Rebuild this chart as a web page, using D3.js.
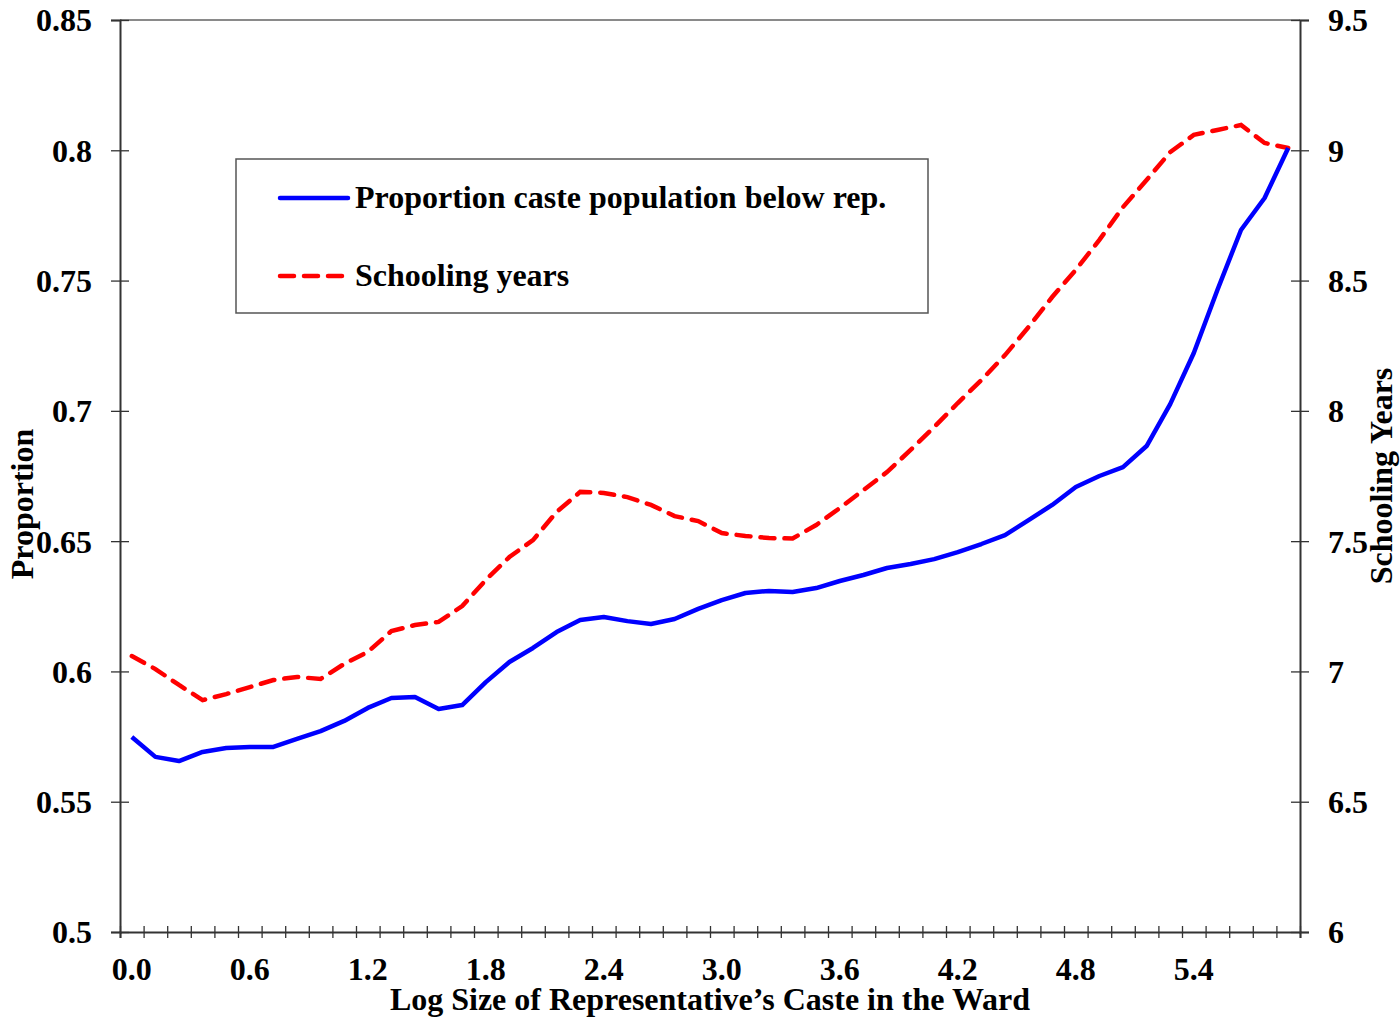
<!DOCTYPE html>
<html>
<head>
<meta charset="utf-8">
<script src="https://cdn.jsdelivr.net/npm/d3@7"></script>
<style>
    body { margin: 0; background: #fff; }
    svg text { font-family: "Liberation Serif", "Times New Roman", serif; font-weight: bold; fill: #000; }
</style>
</head>
<body>
<div id="chart"></div>
<script>
// Log size categories (x) and the two series
const logSize = [0.00, 0.12, 0.24, 0.36, 0.48, 0.60, 0.72, 0.84, 0.96, 1.08,
                 1.20, 1.32, 1.44, 1.56, 1.68, 1.80, 1.92, 2.04, 2.16, 2.28,
                 2.40, 2.52, 2.64, 2.76, 2.88, 3.00, 3.12, 3.24, 3.36, 3.48,
                 3.60, 3.72, 3.84, 3.96, 4.08, 4.20, 4.32, 4.44, 4.56, 4.68,
                 4.80, 4.92, 5.04, 5.16, 5.28, 5.40, 5.52, 5.64, 5.76, 5.88];

const proportion = [0.5748, 0.5672, 0.5656, 0.5691, 0.5706, 0.5710, 0.5710, 0.5741, 0.5771, 0.5810,
                    0.5860, 0.5898, 0.5902, 0.5856, 0.5871, 0.5959, 0.6036, 0.6090, 0.6151, 0.6197,
                    0.6209, 0.6193, 0.6182, 0.6201, 0.6240, 0.6274, 0.6301, 0.6309, 0.6305, 0.6320,
                    0.6347, 0.6370, 0.6397, 0.6412, 0.6431, 0.6458, 0.6489, 0.6523, 0.6581, 0.6639,
                    0.6708, 0.6750, 0.6784, 0.6865, 0.7026, 0.7222, 0.7464, 0.7694, 0.7817, 0.8009];

const schooling = [7.059, 7.009, 6.948, 6.890, 6.913, 6.940, 6.967, 6.979, 6.971, 7.029,
                   7.075, 7.155, 7.178, 7.190, 7.251, 7.351, 7.439, 7.504, 7.612, 7.689,
                   7.685, 7.669, 7.639, 7.596, 7.577, 7.531, 7.520, 7.512, 7.510, 7.562,
                   7.627, 7.696, 7.765, 7.850, 7.938, 8.030, 8.118, 8.214, 8.322, 8.437,
                   8.541, 8.656, 8.782, 8.886, 8.993, 9.059, 9.078, 9.097, 9.028, 9.009];

const xTickLabels = ['0.0', '0.6', '1.2', '1.8', '2.4', '3.0', '3.6', '4.2', '4.8', '5.4'];
const leftTicks = [0.5, 0.55, 0.6, 0.65, 0.7, 0.75, 0.8, 0.85];
const rightTicks = [6, 6.5, 7, 7.5, 8, 8.5, 9, 9.5];

const seriesNames = ['Proportion caste population below rep.', 'Schooling years'];

const width = 1400, height = 1019;
const margin = { top: 20, right: 100, bottom: 87, left: 120 };
const innerW = width - margin.left - margin.right;
const innerH = height - margin.top - margin.bottom;
const fontSize = '32px';

const svg = d3.select('#chart')
    .append('svg')
    .attr('width', width)
    .attr('height', height);

const chart = svg.append('g')
    .attr('transform', `translate(${margin.left},${margin.top})`);

// category band scale: points sit at the band centres, ticks at band edges
const xScale = d3.scaleBand()
    .domain(logSize.map(d => d.toFixed(2)))
    .range([0, innerW])
    .paddingInner(0)
    .paddingOuter(0);

const xEdge = d3.scaleLinear()
    .domain([0, logSize.length])
    .range([0, innerW]);

const yLeft = d3.scaleLinear().domain([0.5, 0.85]).range([innerH, 0]);
const yRight = d3.scaleLinear().domain([6, 9.5]).range([innerH, 0]);

const xPos = i => xScale(logSize[i].toFixed(2)) + xScale.bandwidth() / 2;

// top border
chart.append('line')
    .attr('x1', 0).attr('x2', innerW)
    .attr('y1', 0).attr('y2', 0)
    .attr('stroke', '#8a8a8a')
    .attr('stroke-width', 2);

// x axis ticks (crossing the axis line)
const xTickG = chart.append('g')
    .attr('transform', `translate(0,${innerH})`)
    .call(d3.axisBottom(xEdge).tickValues(d3.range(logSize.length + 1)).tickFormat('').tickSizeOuter(0).tickSize(6));
xTickG.select('.domain').attr('stroke', '#333').attr('stroke-width', 2);
xTickG.selectAll('.tick line').attr('y1', -6).attr('y2', 6).attr('stroke', '#333').attr('stroke-width', 1.3);

// x axis labels, every fifth category
const xLabelG = chart.append('g')
    .attr('transform', `translate(0,${innerH})`)
    .call(d3.axisBottom(xScale)
        .tickValues(xScale.domain().filter((d, i) => i % 5 === 0))
        .tickFormat((d, i) => xTickLabels[i])
        .tickSize(0));
xLabelG.select('.domain').remove();
xLabelG.selectAll('.tick text')
    .attr('y', 0)
    .attr('dy', 48)
    .style('font-size', fontSize);

// left axis
const leftG = chart.append('g')
    .call(d3.axisLeft(yLeft).tickValues(leftTicks).tickFormat(d3.format('')).tickSizeOuter(0).tickSize(9));
leftG.select('.domain').attr('stroke', '#333').attr('stroke-width', 2);
leftG.selectAll('.tick line').attr('x1', 9).attr('x2', -9).attr('stroke', '#333').attr('stroke-width', 1.3);
leftG.selectAll('.tick text')
    .attr('x', -28)
    .attr('dy', '0.34em')
    .style('font-size', fontSize);

// right axis
const rightG = chart.append('g')
    .attr('transform', `translate(${innerW},0)`)
    .call(d3.axisRight(yRight).tickValues(rightTicks).tickFormat(d3.format('')).tickSizeOuter(0).tickSize(9));
rightG.select('.domain').attr('stroke', '#333').attr('stroke-width', 2);
rightG.selectAll('.tick line').attr('x1', -9).attr('x2', 9).attr('stroke', '#333').attr('stroke-width', 1.3);
rightG.selectAll('.tick text')
    .attr('x', 28)
    .attr('dy', '0.34em')
    .style('font-size', fontSize);

// lines
const propLine = d3.line()
    .x((d, i) => xPos(i))
    .y(d => yLeft(d));

const schoolLine = d3.line()
    .x((d, i) => xPos(i))
    .y(d => yRight(d));

chart.append('path')
    .datum(schooling)
    .attr('fill', 'none')
    .attr('stroke', '#ff0000')
    .attr('stroke-width', 4.5)
    .attr('stroke-dasharray', '14,10')
    .attr('stroke-linecap', 'round')
    .attr('d', schoolLine);

chart.append('path')
    .datum(proportion)
    .attr('fill', 'none')
    .attr('stroke', '#0000ff')
    .attr('stroke-width', 4.5)
    .attr('stroke-linejoin', 'round')
    .attr('d', propLine);

// axis titles
svg.append('text')
    .attr('x', margin.left + innerW / 2)
    .attr('y', 1010)
    .attr('text-anchor', 'middle')
    .style('font-size', fontSize)
    .text('Log Size of Representative\u2019s Caste in the Ward');

svg.append('text')
    .attr('transform', `translate(33,504) rotate(-90)`)
    .attr('text-anchor', 'middle')
    .style('font-size', fontSize)
    .text('Proportion');

svg.append('text')
    .attr('transform', `translate(1392,476) rotate(-90)`)
    .attr('text-anchor', 'middle')
    .style('font-size', fontSize)
    .text('Schooling Years');

// legend
const legend = svg.append('g');
legend.append('rect')
    .attr('x', 236).attr('y', 159)
    .attr('width', 692).attr('height', 154)
    .attr('fill', '#fff')
    .attr('stroke', '#555')
    .attr('stroke-width', 1.5);

const legendItems = [
    { name: seriesNames[0], color: '#0000ff', dash: null, y: 198 },
    { name: seriesNames[1], color: '#ff0000', dash: '14,10', y: 276 }
];

legendItems.forEach(d => {
    legend.append('line')
        .attr('x1', 280).attr('x2', 348)
        .attr('y1', d.y).attr('y2', d.y)
        .attr('stroke', d.color)
        .attr('stroke-width', 4.5)
        .attr('stroke-linecap', 'round')
        .attr('stroke-dasharray', d.dash);
    legend.append('text')
        .attr('x', 355)
        .attr('y', d.y + 10)
        .style('font-size', fontSize)
        .text(d.name);
});
</script>
</body>
</html>
